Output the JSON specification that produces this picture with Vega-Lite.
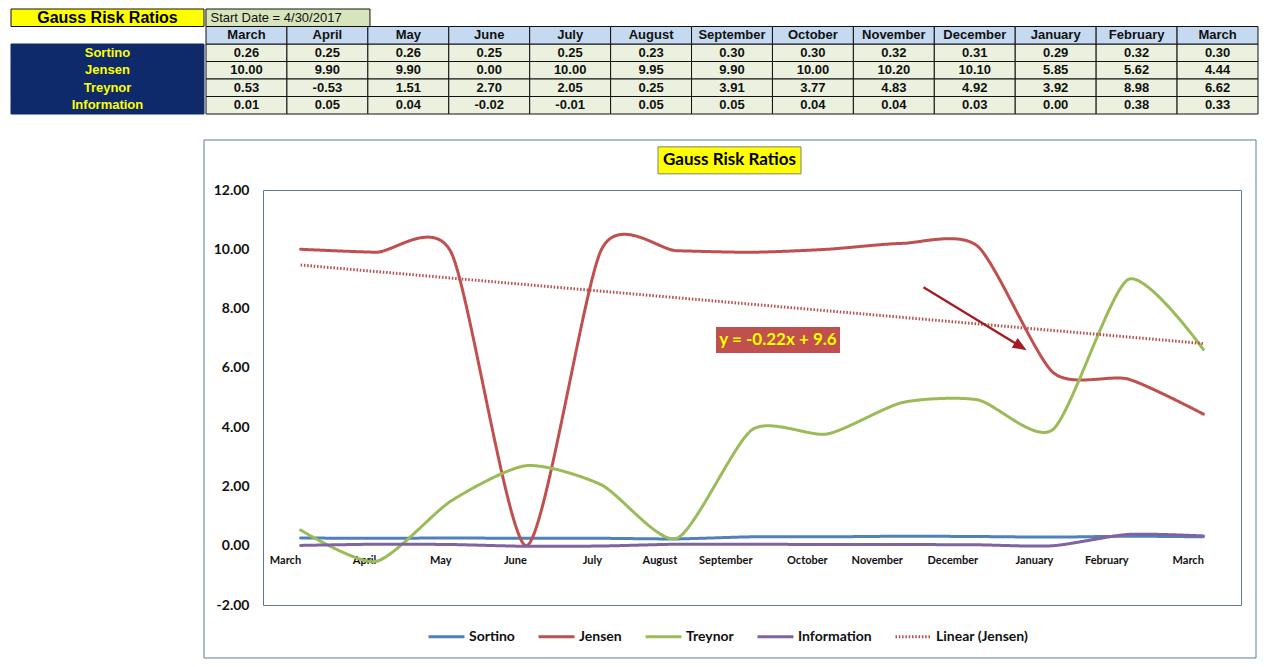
{
  "$schema": "https://vega.github.io/schema/vega-lite/v6.json",
  "background": "white",
  "padding": {"left": 10, "top": 8, "right": 5, "bottom": 5},
  "config": {
    "view": {"stroke": "#5e7c9a", "strokeWidth": 1},
    "font": "Lato",
    "locale": {"number": {"decimal": ".", "thousands": ",", "grouping": [3], "currency": ["$", ""], "minus": "-"}}
  },
  "datasets": {
    "ratios": [
      {"period": "March 2017", "month": "March", "series": "Sortino", "value": 0.26},
      {"period": "April 2017", "month": "April", "series": "Sortino", "value": 0.25},
      {"period": "May 2017", "month": "May", "series": "Sortino", "value": 0.26},
      {"period": "June 2017", "month": "June", "series": "Sortino", "value": 0.25},
      {"period": "July 2017", "month": "July", "series": "Sortino", "value": 0.25},
      {"period": "August 2017", "month": "August", "series": "Sortino", "value": 0.23},
      {"period": "September 2017", "month": "September", "series": "Sortino", "value": 0.30},
      {"period": "October 2017", "month": "October", "series": "Sortino", "value": 0.30},
      {"period": "November 2017", "month": "November", "series": "Sortino", "value": 0.32},
      {"period": "December 2017", "month": "December", "series": "Sortino", "value": 0.31},
      {"period": "January 2018", "month": "January", "series": "Sortino", "value": 0.29},
      {"period": "February 2018", "month": "February", "series": "Sortino", "value": 0.32},
      {"period": "March 2018", "month": "March", "series": "Sortino", "value": 0.30},
      {"period": "March 2017", "month": "March", "series": "Jensen", "value": 10.00},
      {"period": "April 2017", "month": "April", "series": "Jensen", "value": 9.90},
      {"period": "May 2017", "month": "May", "series": "Jensen", "value": 9.90},
      {"period": "June 2017", "month": "June", "series": "Jensen", "value": 0.00},
      {"period": "July 2017", "month": "July", "series": "Jensen", "value": 10.00},
      {"period": "August 2017", "month": "August", "series": "Jensen", "value": 9.95},
      {"period": "September 2017", "month": "September", "series": "Jensen", "value": 9.90},
      {"period": "October 2017", "month": "October", "series": "Jensen", "value": 10.00},
      {"period": "November 2017", "month": "November", "series": "Jensen", "value": 10.20},
      {"period": "December 2017", "month": "December", "series": "Jensen", "value": 10.10},
      {"period": "January 2018", "month": "January", "series": "Jensen", "value": 5.85},
      {"period": "February 2018", "month": "February", "series": "Jensen", "value": 5.62},
      {"period": "March 2018", "month": "March", "series": "Jensen", "value": 4.44},
      {"period": "March 2017", "month": "March", "series": "Treynor", "value": 0.53},
      {"period": "April 2017", "month": "April", "series": "Treynor", "value": -0.53},
      {"period": "May 2017", "month": "May", "series": "Treynor", "value": 1.51},
      {"period": "June 2017", "month": "June", "series": "Treynor", "value": 2.70},
      {"period": "July 2017", "month": "July", "series": "Treynor", "value": 2.05},
      {"period": "August 2017", "month": "August", "series": "Treynor", "value": 0.25},
      {"period": "September 2017", "month": "September", "series": "Treynor", "value": 3.91},
      {"period": "October 2017", "month": "October", "series": "Treynor", "value": 3.77},
      {"period": "November 2017", "month": "November", "series": "Treynor", "value": 4.83},
      {"period": "December 2017", "month": "December", "series": "Treynor", "value": 4.92},
      {"period": "January 2018", "month": "January", "series": "Treynor", "value": 3.92},
      {"period": "February 2018", "month": "February", "series": "Treynor", "value": 8.98},
      {"period": "March 2018", "month": "March", "series": "Treynor", "value": 6.62},
      {"period": "March 2017", "month": "March", "series": "Information", "value": 0.01},
      {"period": "April 2017", "month": "April", "series": "Information", "value": 0.05},
      {"period": "May 2017", "month": "May", "series": "Information", "value": 0.04},
      {"period": "June 2017", "month": "June", "series": "Information", "value": -0.02},
      {"period": "July 2017", "month": "July", "series": "Information", "value": -0.01},
      {"period": "August 2017", "month": "August", "series": "Information", "value": 0.05},
      {"period": "September 2017", "month": "September", "series": "Information", "value": 0.05},
      {"period": "October 2017", "month": "October", "series": "Information", "value": 0.04},
      {"period": "November 2017", "month": "November", "series": "Information", "value": 0.04},
      {"period": "December 2017", "month": "December", "series": "Information", "value": 0.03},
      {"period": "January 2018", "month": "January", "series": "Information", "value": 0.00},
      {"period": "February 2018", "month": "February", "series": "Information", "value": 0.38},
      {"period": "March 2018", "month": "March", "series": "Information", "value": 0.33}
    ],
    "trend": [
      {"period": "March 2017", "series": "Linear (Jensen)", "value": 9.47},
      {"period": "March 2018", "series": "Linear (Jensen)", "value": 6.82}
    ]
  },
  "spacing": 23,
  "vconcat": [
    {
      "spacing": 0,
      "hconcat": [
        {
          "width": 193,
          "height": 105,
          "view": {"stroke": null},
          "layer": [
            {
              "data": {"name": "ratios"},
              "transform": [{"filter": "datum.period === 'March 2017'"}],
              "mark": {"type": "rect", "fill": "#0e2a6a", "stroke": "#0e2a6a", "strokeWidth": 1, "strokeJoin": "round"},
              "encoding": {
                "y": {"field": "series", "type": "nominal", "scale": {"type": "band", "domain": ["title", "hdr", "Sortino", "Jensen", "Treynor", "Information"], "paddingInner": 0, "paddingOuter": 0}, "axis": null}
              }
            },
            {
              "data": {"name": "ratios"},
              "transform": [{"filter": "datum.period === 'March 2017'"}],
              "mark": {"type": "text", "color": "#FFFF00", "font": "Liberation Sans", "fontSize": 13, "fontWeight": "bold", "baseline": "middle"},
              "encoding": {
                "y": {"field": "series", "type": "nominal", "axis": null},
                "text": {"field": "series"}
              }
            },
            {
              "data": {"values": [{"label": "Gauss Risk Ratios"}]},
              "mark": {"type": "rect", "fill": "#FFFF00", "stroke": "#111111", "strokeWidth": 1, "strokeJoin": "round"},
              "encoding": {"y": {"datum": "title", "type": "nominal", "axis": null}}
            },
            {
              "data": {"values": [{"label": "Gauss Risk Ratios"}]},
              "mark": {"type": "text", "color": "#000000", "font": "Liberation Sans", "fontSize": 16, "fontWeight": "bold", "baseline": "middle"},
              "encoding": {"y": {"datum": "title", "type": "nominal", "axis": null}, "text": {"field": "label"}}
            }
          ]
        },
        {
          "width": 1052,
          "height": 105,
          "view": {"stroke": null},
          "layer": [
            {
              "data": {"name": "ratios"},
              "mark": {"type": "rect", "fill": "#EBF1DE", "stroke": "#111111", "strokeWidth": 1, "strokeJoin": "round"},
              "encoding": {
                "x": {"field": "period", "type": "ordinal", "scale": {"type": "band", "domain": ["March 2017", "April 2017", "May 2017", "June 2017", "July 2017", "August 2017", "September 2017", "October 2017", "November 2017", "December 2017", "January 2018", "February 2018", "March 2018"], "paddingInner": 0, "paddingOuter": 0}, "axis": null},
                "y": {"field": "series", "type": "nominal", "scale": {"type": "band", "domain": ["title", "hdr", "Sortino", "Jensen", "Treynor", "Information"], "paddingInner": 0, "paddingOuter": 0}, "axis": null}
              }
            },
            {
              "data": {"name": "ratios"},
              "transform": [{"filter": "datum.series === 'Sortino'"}],
              "mark": {"type": "rect", "fill": "#C5D9F1", "stroke": "#111111", "strokeWidth": 1, "strokeJoin": "round"},
              "encoding": {
                "x": {"field": "period", "type": "ordinal", "axis": null},
                "y": {"datum": "hdr", "type": "nominal", "axis": null}
              }
            },
            {
              "data": {"name": "ratios"},
              "mark": {"type": "text", "color": "#111111", "font": "Liberation Sans", "fontSize": 13, "fontWeight": "bold", "baseline": "middle"},
              "encoding": {
                "x": {"field": "period", "type": "ordinal", "axis": null},
                "y": {"field": "series", "type": "nominal", "axis": null},
                "text": {"field": "value", "type": "quantitative", "format": ".2f"}
              }
            },
            {
              "data": {"name": "ratios"},
              "transform": [{"filter": "datum.series === 'Sortino'"}],
              "mark": {"type": "text", "color": "#111111", "font": "Liberation Sans", "fontSize": 13, "fontWeight": "bold", "baseline": "middle"},
              "encoding": {
                "x": {"field": "period", "type": "ordinal", "axis": null},
                "y": {"datum": "hdr", "type": "nominal", "axis": null},
                "text": {"field": "month"}
              }
            },
            {
              "data": {"values": [{"label": "Start Date = 4/30/2017"}]},
              "mark": {"type": "point", "shape": "M-1,-0.1067L1,-0.1067L1,0.1067L-1,0.1067Z", "size": 26896, "filled": true, "fill": "#D8E4BC", "stroke": "#111111", "strokeWidth": 1, "strokeJoin": "round", "opacity": 1, "xOffset": 41.5},
              "encoding": {
                "x": {"datum": "March 2017", "type": "ordinal", "axis": null},
                "y": {"datum": "title", "type": "nominal", "axis": null}
              }
            },
            {
              "data": {"values": [{"label": "Start Date = 4/30/2017"}]},
              "mark": {"type": "text", "color": "#111111", "font": "Liberation Sans", "fontSize": 13, "align": "left", "baseline": "middle", "dx": -36},
              "encoding": {
                "x": {"datum": "March 2017", "type": "ordinal", "axis": null},
                "y": {"datum": "title", "type": "nominal", "axis": null},
                "text": {"field": "label"}
              }
            }
          ]
        }
      ]
    },
    {
      "spacing": 0,
      "hconcat": [
        {
          "width": 192,
          "height": 20,
          "view": {"stroke": null, "fill": "white"},
          "data": {"values": []},
          "mark": "point"
        },
        {
          "width": 978,
          "height": 415,
          "layer": [
            {
              "data": {"values": [{}]},
              "mark": {"type": "point", "shape": "M-1,-0.4924L1,-0.4924L1,0.4924L-1,0.4924Z", "size": 1106704, "filled": false, "stroke": "#5e7c9a", "strokeWidth": 1, "strokeJoin": "round", "opacity": 1, "xOffset": -22},
              "encoding": {
                "x": {"datum": "September 2017", "type": "ordinal"},
                "y": {"datum": 4.95, "type": "quantitative"}
              }
            },
            {
              "data": {"name": "ratios"},
              "mark": {"type": "line", "interpolate": "cardinal", "tension": 0.3, "strokeCap": "round", "strokeJoin": "round"},
              "encoding": {
                "x": {"field": "period", "type": "ordinal", "sort": null, "scale": {"type": "point", "domain": ["March 2017", "April 2017", "May 2017", "June 2017", "July 2017", "August 2017", "September 2017", "October 2017", "November 2017", "December 2017", "January 2018", "February 2018", "March 2018"], "padding": 0.5}, "axis": {"orient": "bottom", "offset": -59, "title": null, "labelExpr": "split(datum.value, ' ')[0]", "labelFont": "Lato", "labelFontSize": 11, "labelFontWeight": "bold", "labelColor": "#111111", "labelAngle": 0, "labelPadding": 14, "ticks": false, "domain": false, "grid": false}},
                "y": {"field": "value", "type": "quantitative", "scale": {"domain": [-2, 12], "nice": false, "zero": false}, "axis": {"values": [-2, 0, 2, 4, 6, 8, 10, 12], "format": ".2f", "title": null, "labelFont": "Lato", "labelFontSize": 14, "labelFontWeight": "bold", "labelColor": "#111111", "labelPadding": 14, "ticks": false, "domain": false, "gridColor": "#d9d9d9", "gridWidth": 1}},
                "color": {"field": "series", "type": "nominal", "scale": {"domain": ["Sortino", "Jensen", "Treynor", "Information", "Linear (Jensen)"], "range": ["#4F81BD", "#C0504D", "#9BBB59", "#8064A2", "#B5504D"]}, "legend": {"orient": "none", "legendX": 416, "legendY": 608, "direction": "horizontal", "title": null, "symbolType": "stroke", "symbolSize": 1296, "labelFont": "Lato", "labelFontSize": 14, "labelFontWeight": "bold", "labelColor": "#111111", "columnPadding": 17, "labelOffset": 3}},
                "strokeDash": {"field": "series", "type": "nominal", "scale": {"domain": ["Sortino", "Jensen", "Treynor", "Information", "Linear (Jensen)"], "range": [[1, 0], [1, 0], [1, 0], [1, 0], [1.5, 1.8]]}},
                "strokeWidth": {"field": "series", "type": "nominal", "scale": {"domain": ["Sortino", "Jensen", "Treynor", "Information", "Linear (Jensen)"], "range": [3, 3, 3, 3, 1.3]}}
              }
            },
            {
              "data": {"name": "trend"},
              "mark": {"type": "line"},
              "encoding": {
                "x": {"field": "period", "type": "ordinal", "sort": null},
                "y": {"field": "value", "type": "quantitative"},
                "color": {"field": "series", "type": "nominal"},
                "strokeDash": {"field": "series", "type": "nominal"},
                "strokeWidth": {"field": "series", "type": "nominal"}
              }
            },
            {
              "data": {"values": [{"label": "Gauss Risk Ratios"}]},
              "mark": {"type": "point", "shape": "M-1,-0.1888L1,-0.1888L1,0.1888L-1,0.1888Z", "size": 20449, "filled": true, "fill": "#FFFF00", "stroke": "#7f7f7f", "strokeWidth": 1, "strokeJoin": "round", "opacity": 1, "xOffset": -22.5},
              "encoding": {
                "x": {"datum": "September 2017", "type": "ordinal"},
                "y": {"datum": 13.0, "type": "quantitative"}
              }
            },
            {
              "data": {"values": [{"label": "Gauss Risk Ratios"}]},
              "mark": {"type": "text", "font": "Lato", "fontSize": 17, "fontWeight": "bold", "color": "#000000", "baseline": "middle", "xOffset": -22.5},
              "encoding": {
                "x": {"datum": "September 2017", "type": "ordinal"},
                "y": {"datum": 13.0, "type": "quantitative"},
                "text": {"field": "label"}
              }
            },
            {
              "data": {"values": [{"label": "y = -0.22x + 9.6"}]},
              "mark": {"type": "point", "shape": "M-1,-0.2097L1,-0.2097L1,0.2097L-1,0.2097Z", "size": 15376, "filled": true, "fill": "#C0504D", "strokeWidth": 0, "opacity": 1, "xOffset": 26},
              "encoding": {
                "x": {"datum": "September 2017", "type": "ordinal"},
                "y": {"datum": 6.94, "type": "quantitative"}
              }
            },
            {
              "data": {"values": [{"label": "y = -0.22x + 9.6"}]},
              "mark": {"type": "text", "font": "Lato", "fontSize": 17, "fontWeight": "bold", "color": "#FFFF00", "baseline": "middle", "xOffset": 26},
              "encoding": {
                "x": {"datum": "September 2017", "type": "ordinal"},
                "y": {"datum": 6.94, "type": "quantitative"},
                "text": {"field": "label"}
              }
            },
            {
              "data": {"values": [{}]},
              "mark": {"type": "rule", "color": "#A31C22", "strokeWidth": 2.2, "xOffset": 21, "x2Offset": 43},
              "encoding": {
                "x": {"datum": "November 2017", "type": "ordinal"},
                "y": {"datum": 8.72, "type": "quantitative"},
                "x2": {"datum": "December 2017"},
                "y2": {"datum": 6.72}
              }
            },
            {
              "data": {"values": [{}]},
              "mark": {"type": "point", "shape": "M1,0L-1,-0.8L-1,0.8Z", "size": 196, "filled": true, "fill": "#A31C22", "strokeWidth": 0, "opacity": 1, "angle": 31.2, "xOffset": 43},
              "encoding": {
                "x": {"datum": "December 2017", "type": "ordinal"},
                "y": {"datum": 6.72, "type": "quantitative"}
              }
            }
          ]
        }
      ]
    }
  ]
}
